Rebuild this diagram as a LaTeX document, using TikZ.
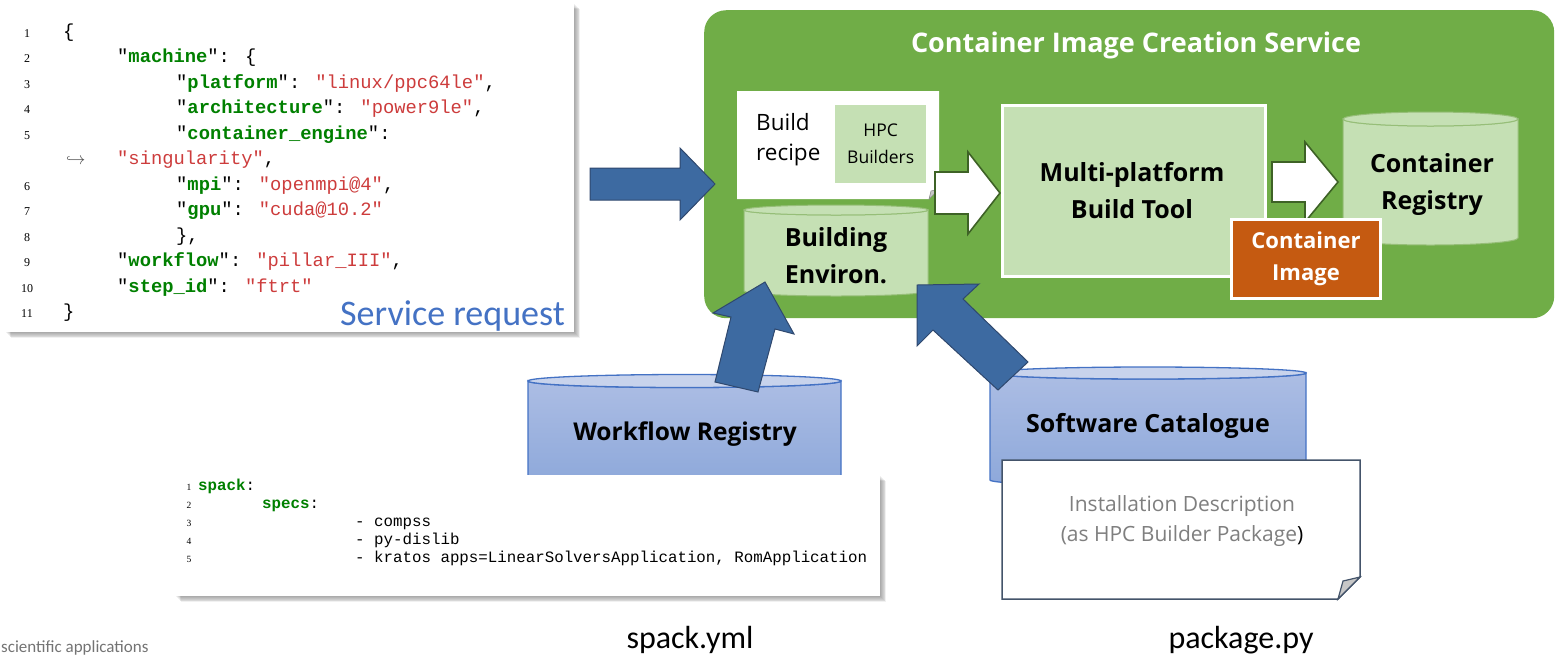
\documentclass[tikz,border=0pt]{standalone}
\usepackage{fontspec}
\setmainfont{Open Sans}
\newfontfamily\calfont{Carlito}
\newfontfamily\codefont{Liberation Mono}
\newfontfamily\numfont{Liberation Serif}
\definecolor{cgreen}{RGB}{112,173,71}
\definecolor{lgreen}{RGB}{197,224,180}
\definecolor{cyledgeg}{RGB}{150,190,120}
\definecolor{dgreen}{RGB}{62,98,38}
\definecolor{arrowblue}{RGB}{61,106,161}
\definecolor{arrowedge}{RGB}{47,72,110}
\definecolor{cylblueT}{RGB}{172,189,228}
\definecolor{cylblueB}{RGB}{141,168,218}
\definecolor{cyltopblue}{RGB}{200,211,236}
\definecolor{cyledge}{RGB}{68,114,196}
\definecolor{orangebox}{RGB}{197,90,17}
\definecolor{keygreen}{RGB}{0,128,0}
\definecolor{valred}{RGB}{205,60,60}
\definecolor{reqblue}{RGB}{68,114,196}
\definecolor{notegray}{RGB}{127,127,127}
\definecolor{noteedge}{RGB}{68,84,106}
\newcommand\jk[1]{"\textbf{\textcolor{keygreen}{#1}}"}
\newcommand\jv[1]{\textcolor{valred}{"#1"}}
\newcommand\yk[1]{\textbf{\textcolor{keygreen}{#1}}}
% cylinder: x1, x2, y of top ellipse centre, y of bottom ellipse centre, ry, body options, top options
\newcommand\drawcyl[7]{%
  \path[#6] (#1,#3) -- (#1,#4) arc[start angle=180,end angle=0,x radius={(#2-#1)/2},y radius=#5]
     -- (#2,#3) arc[start angle=0,end angle=180,x radius={(#2-#1)/2},y radius=#5] -- cycle;
  \path[#7] ({(#1+#2)/2},#3) ellipse[x radius={(#2-#1)/2},y radius=#5];
}
% soft shadow: x1,y1,x2,y2 of the panel
\newcommand\softshadow[4]{%
  \foreach \k in {1,...,7}{
    \fill[black, opacity=0.055] ({#1+0.9*\k},{#2+0.9*\k}) rectangle ({#3+0.9*\k},{#4+0.9*\k});
  }
}
\begin{document}
\begin{tikzpicture}[x=1pt,y=-1pt,
  code/.style={font=\codefont\fontsize{18.8}{18.8}\selectfont, anchor=base west, inner sep=0pt},
  ycode/.style={font=\codefont\fontsize{15.8}{15.8}\selectfont, anchor=base west, inner sep=0pt},
  lnum/.style={font=\numfont\fontsize{12}{12}\selectfont, anchor=base, inner sep=0pt},
  ylnum/.style={font=\numfont\fontsize{9.5}{9.5}\selectfont, anchor=base, inner sep=0pt},
  panel/.style={fill=white, anchor=north west, inner sep=0pt},
  blockblue/.style={fill=arrowblue, draw=arrowedge, line width=1pt, line join=miter},
  blockwhite/.style={fill=white, draw=dgreen, line width=1.6pt, line join=miter},
  boldlbl/.style={font=\bfseries\fontsize{25}{37}\selectfont, align=center, inner sep=0pt},
  greencyl/.style={fill=lgreen, draw=cyledgeg, line width=1pt},
  bluecyl/.style={top color=cylblueT, bottom color=cylblueB, draw=cyledge, line width=1.3pt},
  bluecyltop/.style={fill=cyltopblue, draw=cyledge, line width=1.3pt}
]
\useasboundingbox (0,0) rectangle (1555,657);

%% ---------- JSON service request ----------
\softshadow{5}{3}{574}{332}
\node[panel, minimum width=569pt, minimum height=329pt] (jsonbox) at (5,3) {};
\foreach \n/\r in {1/1,2/2,3/3,4/4,5/5,6/7,7/8,8/9,9/10,10/11,11/12}{
  \node[lnum] (ln\n) at (27,{37+25.5*(\r-1)}) {\n};
}
\node[code] (j1) at (63,37) {\{};
\node[code] (j2) at (117,62.5) {\jk{machine}: \{};
\node[code] (j3) at (176,88) {\jk{platform}: \jv{linux/ppc64le},};
\node[code] (j4) at (176,113.5) {\jk{architecture}: \jv{power9le},};
\node[code] (j5) at (176,139) {\jk{container\_engine}:};
\node[font=\fontsize{16}{16}\selectfont, anchor=base west, inner sep=0pt, text=black!70] (wrap) at (66,164.5) {$\hookrightarrow$};
\node[code] (j5b) at (117,164.5) {\jv{singularity},};
\node[code] (j6) at (176,190) {\jk{mpi}: \jv{openmpi@4},};
\node[code] (j7) at (176,215.5) {\jk{gpu}: \jv{cuda@10.2}};
\node[code] (j8) at (176,241) {\},};
\node[code] (j9) at (117,266.5) {\jk{workflow}: \jv{pillar\_III},};
\node[code] (j10) at (117,292) {\jk{step\_id}: \jv{ftrt}};
\node[code] (j11) at (63,317.5) {\}};
\node[font=\calfont\fontsize{36}{36}\selectfont, text=reqblue, anchor=base west, inner sep=0pt] (sreq) at (340,325) {Service request};

%% ---------- Container Image Creation Service ----------
\node[fill=cgreen, rounded corners=22pt, anchor=north west, minimum width=850pt, minimum height=308pt, inner sep=0pt] (service) at (704,10) {};
\node[font=\bfseries\fontsize{27}{27}\selectfont, text=white, inner sep=0pt] (title) at (1136,45) {Container Image Creation Service};

% build recipe note
\path[fill=white] (737,91) -- (939,91) -- (939,189) -- (929,199) -- (737,199) -- cycle;
\path[fill=black!22, draw=black!45, line width=0.6pt] (929,199) -- (931,191) -- (939,189) -- cycle;
\node[font=\fontsize{22.5}{30}\selectfont, align=left, anchor=west, inner sep=0pt] (recipe) at (756,140) {Build\\recipe};
\node[fill=lgreen, anchor=north west, minimum width=91pt, minimum height=78pt, inner sep=0pt] (hpc) at (835,105) {};
\node[font=\fontsize{17.5}{27}\selectfont, align=center, inner sep=0pt] (hpctxt) at (hpc.center) {HPC\\Builders};

% building environment cylinder
\drawcyl{744}{928}{210}{291}{5}{greencyl}{greencyl}
\node[boldlbl] (benv) at (836,256) {Building\\Environ.};

% white arrow recipe -> build tool
\coordinate (wa1e) at (1000,193);
\path[blockwhite] (935,172) -- (968,172) -- (968,152) -- (wa1e) -- (968,234) -- (968,214) -- (935,214) -- cycle;

% multi-platform build tool
\node[fill=lgreen, draw=white, line width=3pt, anchor=north west, minimum width=263pt, minimum height=171pt, inner sep=0pt] (mbt) at (1001,104) {};
\node[boldlbl] (mbttxt) at (1132,191) {Multi-platform\\Build Tool};

% container registry cylinder
\drawcyl{1343}{1518}{119}{238}{7}{greencyl}{greencyl}
\node[boldlbl] (creg) at (1432,184) {Container\\Registry};

% white arrow build tool -> registry
\coordinate (wa2e) at (1338,182);
\path[blockwhite] (1272,162) -- (1305,162) -- (1305,142) -- (wa2e) -- (1305,222) -- (1305,202) -- (1272,202) -- cycle;

% container image box
\node[fill=orangebox, draw=white, line width=3pt, anchor=north west, minimum width=149pt, minimum height=79pt, inner sep=0pt] (cimg) at (1230,218) {};
\node[font=\bfseries\fontsize{22}{32}\selectfont, text=white, align=center, inner sep=0pt] (cimgtxt) at (cimg.center) {Container\\Image};

%% ---------- blue arrow: request -> service ----------
\coordinate (ba1e) at (715,184);
\path[blockblue] (590,168) -- (680,168) -- (680,148) -- (ba1e) -- (680,220) -- (680,200) -- (590,200) -- cycle;

%% ---------- workflow registry ----------
\drawcyl{528}{841}{381}{478}{6.5}{bluecyl}{bluecyltop}
\node[font=\bfseries\fontsize{24.5}{24.5}\selectfont, inner sep=0pt] (wfreg) at (685,434) {Workflow Registry};

%% ---------- software catalogue ----------
\drawcyl{990}{1306}{373}{480}{6}{bluecyl}{bluecyltop}
\node[font=\bfseries\fontsize{25}{25}\selectfont, inner sep=0pt] (swcat) at (1148,426) {Software Catalogue};

%% ---------- blue arrows into building environment ----------
\coordinate (ba2e) at (765,282);
\path[blockblue] (715,382) -- (731,317) -- (713,313) -- (ba2e) -- (794,334) -- (775,329) -- (758,392) -- cycle;
\coordinate (ba3e) at (917,285);
\path[blockblue] (ba3e) -- (979,284) -- (963,299) -- (1028,362) -- (998,390) -- (933,330) -- (917,346) -- cycle;

%% ---------- spack.yml panel ----------
\softshadow{175}{475}{880}{596}
\node[panel, minimum width=705pt, minimum height=121pt] (yamlbox) at (175,475) {};
\foreach \n/\yy in {1/490,2/508,3/526,4/544,5/562}{
  \node[ylnum] (yn\n) at (189,\yy) {\n};
}
\node[ycode] (y1) at (198,490) {\yk{spack}:};
\node[ycode] (y2) at (262,508) {\yk{specs}:};
\node[ycode] (y3) at (355,526) {- compss};
\node[ycode] (y4) at (355,544) {- py-dislib};
\node[ycode] (y5) at (355,562) {- kratos apps=LinearSolversApplication, RomApplication};

%% ---------- package.py note ----------
\path[fill=white, draw=noteedge, line width=1.5pt, line join=miter] (1002,460) -- (1360,460) -- (1360,577) -- (1338,599) -- (1002,599) -- cycle;
\path[fill=black!22, draw=noteedge, line width=1.2pt] (1338,599) -- (1343,581) -- (1360,577) -- cycle;
\node[font=\fontsize{21}{30}\selectfont, text=notegray, align=center, inner sep=0pt] (instdesc) at (1182,521) {Installation Description\\(as HPC Builder Package\textcolor{black}{)}};

%% ---------- captions ----------
\node[font=\calfont\fontsize{32}{32}\selectfont, anchor=base, inner sep=0pt] (spackyml) at (690,648) {spack.yml};
\node[font=\calfont\fontsize{32}{32}\selectfont, anchor=base, inner sep=0pt] (packagepy) at (1241,648) {package.py};
\node[font=\calfont\fontsize{17}{17}\selectfont, text=black!55, anchor=base west, inner sep=0pt] (sci) at (1,652) {scientific applications};
\end{tikzpicture}
\end{document}
